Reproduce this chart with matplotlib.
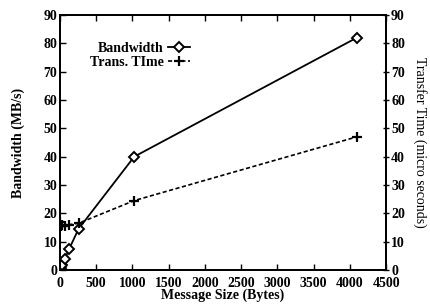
import numpy as np
import matplotlib.pyplot as plt

# message sizes (bytes) and readings
msg_size = [4, 8, 16, 32, 64, 128, 256, 1024, 4096]
bandwidth = [0.2, 0.5, 1.0, 1.8, 3.8, 7.5, 14.5, 40.0, 82.0]
trans_time = [17.0, 15.5, 15.5, 16.0, 15.5, 16.0, 16.5, 24.5, 47.0]

plt.rcParams['font.family'] = ['Liberation Serif', 'DejaVu Serif']
plt.rcParams['font.size'] = 10
plt.rcParams['font.weight'] = 'bold'
plt.rcParams['axes.labelweight'] = 'bold'

fig = plt.figure(figsize=(4.3, 3.06), dpi=100)
ax = fig.add_axes([0.1395, 0.1176, 0.7585, 0.8334])
ax2 = ax.twinx()

l1, = ax.plot(msg_size, bandwidth, color='black', lw=1.3, marker='D',
              markersize=5, markerfacecolor='white', markeredgewidth=1.4,
              label='Bandwidth')
l2, = ax2.plot(msg_size, trans_time, color='black', lw=1.2, ls=(0, (2.5, 1.5)),
               marker='+', markersize=7, markeredgewidth=1.6,
               label='Trans. TIme')

ax.set_xlim(0, 4500)
ax.set_ylim(0, 90)
ax2.set_ylim(0, 90)
ax.set_xticks(np.arange(0, 4501, 500))
ax.set_yticks(np.arange(0, 91, 10))
ax2.set_yticks(np.arange(0, 91, 10))

ax.tick_params(direction='in', top=True, length=4, width=1, pad=2)
ax.tick_params(axis='x', pad=5)
ax2.tick_params(direction='inout', length=5, width=1, pad=1)
for a in (ax, ax2):
    for s in a.spines.values():
        s.set_linewidth(1.3)

ax.set_xlabel('Message Size (Bytes)', labelpad=-1)
ax.set_ylabel('Bandwidth (MB/s)', labelpad=13)
ax2.set_ylabel('Transfer Time (micro seconds)', rotation=270, labelpad=16,
               fontweight='normal')

ax.legend([l1, l2], ['Bandwidth', 'Trans. TIme'], loc='upper left',
          bbox_to_anchor=(0.07, 0.92), frameon=False, markerfirst=False,
          handlelength=1.6, handletextpad=0.3, borderpad=0, labelspacing=0.05)

plt.savefig('out.png', dpi=100)
plt.close()
